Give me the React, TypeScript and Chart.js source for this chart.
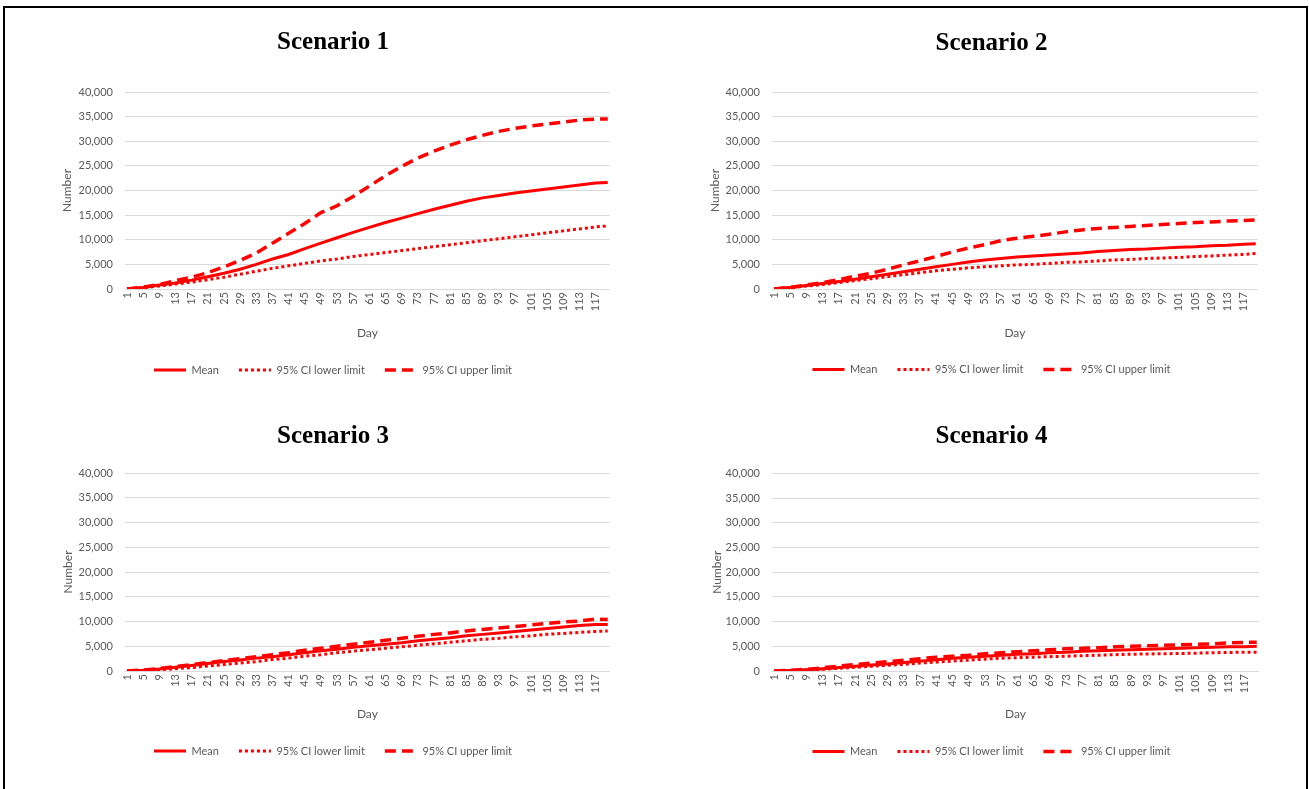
import React, { useEffect, useRef } from 'react';
import { Chart, registerables } from 'chart.js';

Chart.register(...registerables);

// ---------- DATA ----------
const DAY_LABELS: string[] = Array.from({ length: 120 }, (_, i) => String(i + 1));
const SAMPLE_DAYS = [1, 5, 9, 13, 17, 21, 25, 29, 33, 37, 41, 45, 49, 53, 57, 61, 65, 69, 73, 77, 81, 85, 89, 93, 97, 101, 105, 109, 113, 117, 120];
const Y_TICKS = [0, 5000, 10000, 15000, 20000, 25000, 30000, 35000, 40000];
const SERIES_NAMES = ['Mean', '95% CI lower limit', '95% CI upper limit'];
const TITLES = ['Scenario 1', 'Scenario 2', 'Scenario 3', 'Scenario 4'];

const S1_MEAN = [0, 300, 800, 1200, 1800, 2500, 3200, 4000, 5000, 6100, 7000, 8200, 9300, 10400, 11500, 12500, 13500, 14400, 15300, 16200, 17000, 17800, 18500, 19000, 19500, 19900, 20300, 20700, 21100, 21500, 21600];
const S1_LOWER = [0, 250, 600, 1000, 1400, 1900, 2400, 3000, 3600, 4200, 4700, 5200, 5700, 6100, 6600, 7000, 7400, 7800, 8200, 8600, 9000, 9400, 9800, 10200, 10600, 11000, 11400, 11800, 12200, 12600, 12800];
const S1_UPPER = [0, 400, 900, 1700, 2400, 3300, 4500, 5800, 7300, 9300, 11300, 13300, 15500, 16900, 18800, 20900, 23000, 24900, 26600, 28000, 29200, 30300, 31200, 32000, 32600, 33100, 33500, 33900, 34300, 34500, 34500];

const S2_MEAN = [0, 300, 700, 1100, 1500, 2000, 2500, 3000, 3500, 4000, 4500, 5000, 5500, 5900, 6200, 6500, 6700, 6900, 7100, 7300, 7600, 7800, 8000, 8100, 8300, 8500, 8600, 8800, 8900, 9100, 9200];
const S2_LOWER = [0, 250, 600, 900, 1300, 1700, 2100, 2500, 2900, 3300, 3700, 4000, 4300, 4500, 4700, 4900, 5000, 5200, 5400, 5500, 5700, 5900, 6000, 6200, 6300, 6400, 6600, 6700, 6900, 7000, 7200];
const S2_UPPER = [0, 350, 800, 1300, 1900, 2600, 3200, 4000, 4900, 5700, 6600, 7500, 8300, 9000, 9800, 10300, 10700, 11100, 11600, 12000, 12300, 12500, 12700, 12900, 13100, 13300, 13500, 13600, 13800, 13900, 14000];

const S3_MEAN = [0, 150, 400, 750, 1100, 1500, 1900, 2200, 2600, 2900, 3300, 3700, 4100, 4400, 4800, 5100, 5400, 5700, 6100, 6400, 6700, 7100, 7400, 7700, 8000, 8300, 8600, 8900, 9200, 9400, 9400];
const S3_LOWER = [0, 100, 250, 450, 700, 1000, 1300, 1600, 1900, 2300, 2600, 3000, 3300, 3700, 4000, 4300, 4600, 4900, 5200, 5500, 5800, 6100, 6400, 6600, 6900, 7100, 7400, 7600, 7800, 8000, 8100];
const S3_UPPER = [0, 200, 500, 900, 1300, 1700, 2100, 2500, 2900, 3300, 3700, 4200, 4600, 5000, 5400, 5800, 6200, 6600, 7000, 7400, 7700, 8100, 8400, 8700, 9000, 9300, 9600, 9900, 10100, 10500, 10400];

const S4_MEAN = [0, 100, 250, 450, 700, 950, 1200, 1400, 1700, 2000, 2300, 2600, 2800, 3000, 3200, 3400, 3500, 3700, 3800, 4000, 4100, 4200, 4300, 4400, 4500, 4600, 4700, 4800, 4900, 4900, 5000];
const S4_LOWER = [0, 80, 200, 350, 550, 750, 950, 1150, 1350, 1600, 1800, 2000, 2200, 2400, 2600, 2700, 2800, 2900, 3000, 3100, 3200, 3300, 3400, 3450, 3500, 3550, 3600, 3700, 3750, 3800, 3800];
const S4_UPPER = [0, 150, 350, 650, 1000, 1300, 1600, 1900, 2200, 2500, 2800, 3000, 3200, 3500, 3700, 3900, 4100, 4300, 4500, 4600, 4700, 4900, 5000, 5100, 5200, 5300, 5400, 5500, 5700, 5800, 5800];

const SCENARIO_SERIES = [
  [S1_MEAN, S1_LOWER, S1_UPPER],
  [S2_MEAN, S2_LOWER, S2_UPPER],
  [S3_MEAN, S3_LOWER, S3_UPPER],
  [S4_MEAN, S4_LOWER, S4_UPPER],
];

// ---------- LAYOUT / STYLE ----------
const LAYOUTS = [
  { titleY: 43, plotTop: 92, plotBottom: 289, plotLeft: 125, plotRight: 614, innerLeft: 52, numberX: 67, dayY: 333, legendY: 370 },
  { titleY: 43.5, plotTop: 92, plotBottom: 289, plotLeft: 772, plotRight: 1262, innerLeft: 721, numberX: 715, dayY: 333, legendY: 369.5 },
  { titleY: 437, plotTop: 473, plotBottom: 671, plotLeft: 125, plotRight: 614, innerLeft: 52, numberX: 68, dayY: 714, legendY: 751 },
  { titleY: 436.5, plotTop: 473.5, plotBottom: 671, plotLeft: 772, plotRight: 1263, innerLeft: 720, numberX: 717, dayY: 714, legendY: 751.5 },
];

const RED = '#ff0000';
const GRID = '#d9d9d9';
const TEXT_GRAY = '#595959';
const SANS = 'Lato, "Open Sans", sans-serif';
const LINE_STYLES = [
  { dash: [] as number[], width: 3 },
  { dash: [3, 3], width: 3 },
  { dash: [11, 6], width: 3.5 },
];

const TITLE_SIZE = 25;
const TITLE_LH = TITLE_SIZE * 1.2;
const LEG_FONT = 11;
const LEG_PAD = 20;
const AXIS_TITLE_SIZE = 12;

function Panel({ idx }: { idx: number }) {
  const ref = useRef<HTMLCanvasElement | null>(null);
  const L = LAYOUTS[idx];

  const canvasTop = Math.floor(L.titleY - TITLE_LH / 2 - 5);
  const titlePadTop = L.titleY - TITLE_LH / 2 - canvasTop;
  const titlePadBottom = L.plotTop - canvasTop - titlePadTop - TITLE_LH;
  const legendTop = L.legendY - LEG_FONT / 2 - LEG_PAD;
  const xAxisHeight = legendTop - L.plotBottom;
  const dayPad = legendTop - (AXIS_TITLE_SIZE * 1.2) / 2 - L.dayY;
  const legendBottom = legendTop + LEG_FONT + LEG_PAD + 10;
  const canvasHeight = Math.ceil(legendBottom - canvasTop) + 2;
  const padBottom = canvasHeight - (legendBottom - canvasTop);
  const canvasLeft = Math.floor(Math.min(L.innerLeft, L.numberX - 10)) - 4;
  const padLeft = L.innerLeft - canvasLeft;
  const canvasWidth = Math.ceil(L.plotRight + 10 - canvasLeft);
  const realPadRight = canvasLeft + canvasWidth - L.plotRight;
  const yAxisWidth = L.plotLeft - L.innerLeft;
  const numberPad = L.numberX - L.innerLeft - (AXIS_TITLE_SIZE * 1.2) / 2;

  useEffect(() => {
    if (!ref.current) return;
    const series = SCENARIO_SERIES[idx];
    const chart = new Chart(ref.current, {
      type: 'line',
      data: {
        labels: DAY_LABELS,
        datasets: series.map((vals, si) => ({
          label: SERIES_NAMES[si],
          data: SAMPLE_DAYS.map((d, i) => ({ x: String(d), y: vals[i] })),
          borderColor: RED,
          backgroundColor: RED,
          borderWidth: LINE_STYLES[si].width,
          borderDash: LINE_STYLES[si].dash,
          pointRadius: 0,
          pointHoverRadius: 0,
          tension: 0,
          fill: false,
        })),
      },
      options: {
        animation: false,
        responsive: false,
        maintainAspectRatio: false,
        events: [],
        layout: { padding: { top: 0, left: padLeft, right: realPadRight, bottom: padBottom } },
        plugins: {
          tooltip: { enabled: false },
          title: {
            display: true,
            text: TITLES[idx],
            color: '#000000',
            font: { family: '"Liberation Serif", "Times New Roman", serif', size: TITLE_SIZE, weight: 'bold', lineHeight: 1.2 },
            padding: { top: titlePadTop, bottom: titlePadBottom },
          },
          legend: {
            display: true,
            position: 'bottom',
            align: 'center',
            labels: {
              usePointStyle: true,
              pointStyle: 'line',
              pointStyleWidth: 32,
              padding: LEG_PAD,
              color: TEXT_GRAY,
              font: { family: SANS, size: LEG_FONT },
              generateLabels: (c: any) => {
                const items = (Chart.defaults as any).plugins.legend.labels.generateLabels(c);
                return items.map((it: any, i: number) => ({
                  ...it,
                  pointStyle: 'line',
                  lineDash: LINE_STYLES[i].dash,
                  lineWidth: LINE_STYLES[i].width,
                  strokeStyle: RED,
                  fillStyle: RED,
                  lineCap: 'butt',
                }));
              },
            },
          },
        },
        scales: {
          x: {
            type: 'category',
            offset: true,
            grid: { display: false, drawTicks: false },
            border: { display: true, color: GRID, width: 1 },
            ticks: {
              autoSkip: false,
              minRotation: 90,
              maxRotation: 90,
              padding: 3,
              color: TEXT_GRAY,
              font: { family: SANS, size: 11 },
              callback: (_v: any, index: number) => (index % 4 === 0 ? DAY_LABELS[index] : ''),
            },
            title: {
              display: true,
              text: 'Day',
              color: TEXT_GRAY,
              font: { family: SANS, size: AXIS_TITLE_SIZE },
              padding: { top: 0, bottom: dayPad },
            },
            afterFit: (s: any) => { s.height = xAxisHeight; },
          },
          y: {
            min: 0,
            max: 40000,
            afterBuildTicks: (s: any) => { s.ticks = Y_TICKS.map((v) => ({ value: v })); },
            grid: { color: GRID, lineWidth: 1, drawTicks: false },
            border: { display: false },
            ticks: {
              padding: 12,
              color: TEXT_GRAY,
              font: { family: SANS, size: 11 },
              callback: (v: any) => Number(v).toLocaleString('en-US'),
            },
            title: {
              display: true,
              text: 'Number',
              color: TEXT_GRAY,
              font: { family: SANS, size: AXIS_TITLE_SIZE },
              padding: { top: numberPad, bottom: 0 },
            },
            afterFit: (s: any) => { s.width = yAxisWidth; },
          },
        },
      } as any,
    });
    return () => chart.destroy();
  }, [idx]);

  return (
    <canvas
      ref={ref}
      width={canvasWidth}
      height={canvasHeight}
      style={{ position: 'absolute', left: canvasLeft, top: canvasTop, width: canvasWidth, height: canvasHeight }}
    />
  );
}

export default function App() {
  return (
    <div style={{ position: 'fixed', left: 0, top: 0, width: 1309, height: 789, overflow: 'hidden', background: '#ffffff' }}>
      <div
        style={{
          position: 'absolute',
          left: 3,
          top: 6,
          width: 1305,
          height: 820,
          border: '2px solid #000000',
          boxSizing: 'border-box',
        }}
      />
      {[0, 1, 2, 3].map((i) => (
        <Panel key={i} idx={i} />
      ))}
    </div>
  );
}
